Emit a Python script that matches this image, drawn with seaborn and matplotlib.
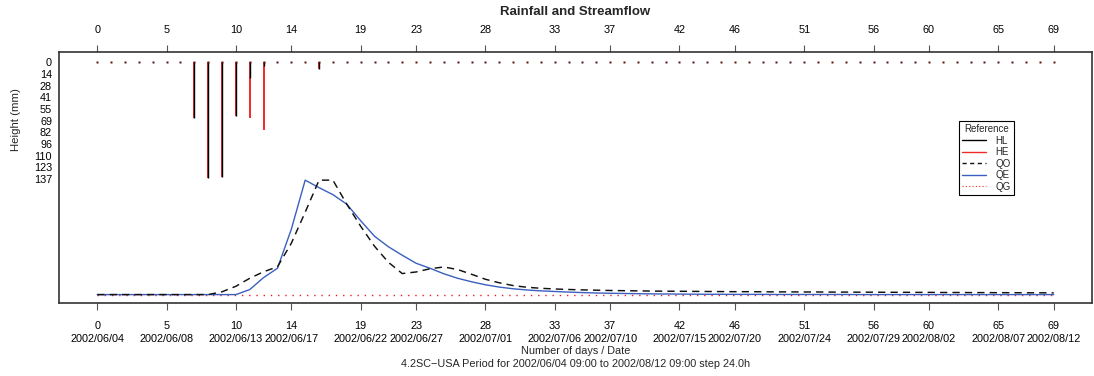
import numpy as np
import pandas as pd
import matplotlib
matplotlib.use("Agg")
import matplotlib.pyplot as plt
from matplotlib.lines import Line2D
import seaborn as sns

# ---- data -------------------------------------------------------------
days = list(range(70))

# rainfall (mm): observed (HL) and effective (HE)
HL = [0, 0, 0, 0, 0, 0, 0, 65.8, 136.3, 134.7, 63.5, 19.5, 5.0, 0, 0, 0, 8.6,
      0, 0, 0, 0, 0, 0, 0, 0, 0, 0, 0, 0, 0, 0, 0, 0, 0, 0, 0, 0, 0, 0, 0,
      0, 0, 0, 0, 0, 0, 0, 0, 0, 0, 0, 0, 0, 0, 0, 0, 0, 0, 0, 0, 0, 0, 0,
      0, 0, 0, 0, 0, 0, 0]
HE = [0, 0, 0, 0, 0, 0, 0, 65.8, 136.3, 134.7, 63.5, 65.8, 79.4, 0, 0, 0, 8.6,
      0, 0, 0, 0, 0, 0, 0, 0, 0, 0, 0, 0, 0, 0, 0, 0, 0, 0, 0, 0, 0, 0, 0,
      0, 0, 0, 0, 0, 0, 0, 0, 0, 0, 0, 0, 0, 0, 0, 0, 0, 0, 0, 0, 0, 0, 0,
      0, 0, 0, 0, 0, 0, 0]

# streamflow: observed (QO), estimated (QE), groundwater (QG)
QO = [0.37, 0.37, 0.37, 0.37, 0.37, 0.37, 0.37, 0.37, 0.37, 0.65,
      1.2, 2.0, 2.65, 3.15, 5.5, 8.6, 11.8, 11.8, 9.4, 7.2,
      5.2, 3.6, 2.47, 2.63, 2.95, 3.13, 2.87, 2.4, 1.9, 1.55,
      1.27, 1.1, 1.0, 0.93, 0.88, 0.84, 0.81, 0.78, 0.76, 0.74,
      0.72, 0.71, 0.70, 0.69, 0.68, 0.67, 0.66, 0.66, 0.65, 0.64,
      0.64, 0.63, 0.63, 0.62, 0.62, 0.61, 0.61, 0.60, 0.60, 0.59,
      0.59, 0.58, 0.58, 0.57, 0.57, 0.56, 0.56, 0.55, 0.55, 0.54]
QE = [0.37, 0.37, 0.37, 0.37, 0.37, 0.37, 0.37, 0.37, 0.37, 0.37,
      0.37, 0.87, 2.07, 3.0, 6.9, 11.8, 11.05, 10.35, 9.4, 7.75,
      6.2, 5.15, 4.3, 3.5, 3.0, 2.45, 2.0, 1.65, 1.35, 1.12,
      0.95, 0.83, 0.74, 0.68, 0.62, 0.57, 0.53, 0.50, 0.48, 0.46,
      0.44, 0.43, 0.42, 0.41, 0.40, 0.40, 0.39, 0.39, 0.39, 0.38,
      0.38, 0.38, 0.38, 0.38, 0.38, 0.37, 0.37, 0.37, 0.37, 0.37,
      0.37, 0.37, 0.37, 0.37, 0.37, 0.37, 0.37, 0.37, 0.37, 0.37]
QG = [0.35] * 70

tick_days = [0, 5, 10, 14, 19, 23, 28, 33, 37, 42, 46, 51, 56, 60, 65, 69]
tick_dates = ["2002/06/04", "2002/06/08", "2002/06/13", "2002/06/17",
              "2002/06/22", "2002/06/27", "2002/07/01", "2002/07/06",
              "2002/07/10", "2002/07/15", "2002/07/20", "2002/07/24",
              "2002/07/29", "2002/08/02", "2002/08/07", "2002/08/12"]
rain_ticks = [0, 14, 28, 41, 55, 69, 82, 96, 110, 123, 137]

# ---- style ------------------------------------------------------------
sns.set_theme(style="white")
plt.rcParams["font.family"] = ["Liberation Sans", "DejaVu Sans"]
plt.rcParams["axes.unicode_minus"] = True

W, H = 1094, 376
FS = 7.8
fig = plt.figure(figsize=(W / 100, H / 100), dpi=100)
ax = fig.add_axes([59 / W, 1 - 303.3 / H, (1092 - 59) / W, (303.3 - 51.7) / H])
ax.set_facecolor("white")

RED = "#f02a2a"
BLUE = "#3a5fc0"
frame_c = "#333333"
tick_c = "#555555"

# ---- rainfall (inverted, top part) ------------------------------------
rain = pd.DataFrame({"day": days, "HL": HL, "HE": HE})
ax.vlines(rain["day"], 0, rain["HE"], color=RED, lw=1.4, capstyle="butt", zorder=2)
ax.vlines(rain["day"], 0, rain["HL"], color="black", lw=1.0, capstyle="butt", zorder=3)
ax.plot(rain["day"], [0] * len(days), ls="none", marker="s", ms=1.6,
        mec="none", mfc="#5a1414", zorder=4)
ax.set_xlim(-2.76, 71.76)
ax.set_ylim(282.7, -11.7)
ax.set_yticks(rain_ticks)
ax.set_yticklabels([str(v) for v in rain_ticks])
ax.tick_params(axis="y", length=0, pad=5, labelsize=FS, colors="black")

# bottom axis: day index + date
ax.set_xticks(tick_days)
ax.set_xticklabels([f"{d}\n{s}" for d, s in zip(tick_days, tick_dates)],
                   linespacing=1.3)
ax.tick_params(axis="x", direction="out", length=5, width=0.8, color=tick_c,
               pad=8, labelsize=FS, labelcolor="black", bottom=True)

# top axis: day index
top = ax.secondary_xaxis("top")
top.set_xticks(tick_days)
top.set_xticklabels([str(d) for d in tick_days])
top.tick_params(direction="out", length=5, width=0.8, color=tick_c, pad=7,
                labelsize=FS, labelcolor="black")
top.spines["top"].set_visible(False)

for s in ax.spines.values():
    s.set_color(frame_c)
    s.set_linewidth(1.2)

# ---- streamflow (bottom part) -----------------------------------------
ax2 = ax.twinx()
flow = pd.DataFrame({"day": days, "QO": QO, "QE": QE, "QG": QG})
sns.lineplot(data=flow, x="day", y="QG", ax=ax2, color="#ee1c1c", lw=1.0)
ax2.lines[-1].set_dashes([1, 4.2])
sns.lineplot(data=flow, x="day", y="QE", ax=ax2, color=BLUE, lw=1.0)
sns.lineplot(data=flow, x="day", y="QO", ax=ax2, color="#111111", lw=1.05)
ax2.lines[-1].set_dashes([5, 3.5])
ax2.set_ylim(-0.5, 24.63)
ax2.set_xlim(-2.76, 71.76)
ax2.set_yticks([])
ax2.set_ylabel("")
ax2.set_xlabel("")
ax.set_xlabel("")
for s in ax2.spines.values():
    s.set_visible(False)

# ---- texts ------------------------------------------------------------
cx = (59 + 1092) / 2 / W
fig.text(cx, 1 - 12 / H, "Rainfall and Streamflow", ha="center", va="center",
         fontsize=9.5, fontweight="bold")
fig.text(cx, 1 - 351 / H, "Number of days / Date", ha="center", va="center",
         fontsize=FS)
fig.text(cx, 1 - 364 / H,
         "4.2SC\u2212USA Period for 2002/06/04 09:00 to 2002/08/12 09:00 step 24.0h",
         ha="center", va="center", fontsize=FS)
fig.text(16 / W, 1 - 120 / H, "Height (mm)", rotation=90, ha="center",
         va="center", fontsize=8.2)

# ---- legend -----------------------------------------------------------
handles = [
    Line2D([], [], color="black", lw=1.0),
    Line2D([], [], color=RED, lw=1.0),
    Line2D([], [], color="#111111", lw=1.0, dashes=[3, 2.5]),
    Line2D([], [], color=BLUE, lw=1.0),
    Line2D([], [], color=RED, lw=0.8, dashes=[1, 2]),
]
leg = ax2.legend(handles, ["HL", "HE", "QO", "QE", "QG"], title="Reference",
                 loc="upper left", bbox_to_anchor=(959 / W, 1 - 121 / H),
                 bbox_transform=fig.transFigure, borderaxespad=0,
                 fontsize=7, title_fontsize=7, frameon=True, fancybox=False,
                 handlelength=2.4, handletextpad=1.0, labelspacing=0.15,
                 borderpad=0.35, framealpha=1)
leg.get_frame().set_edgecolor("black")
leg.get_frame().set_linewidth(0.8)

fig.savefig("out.png", dpi=100)
